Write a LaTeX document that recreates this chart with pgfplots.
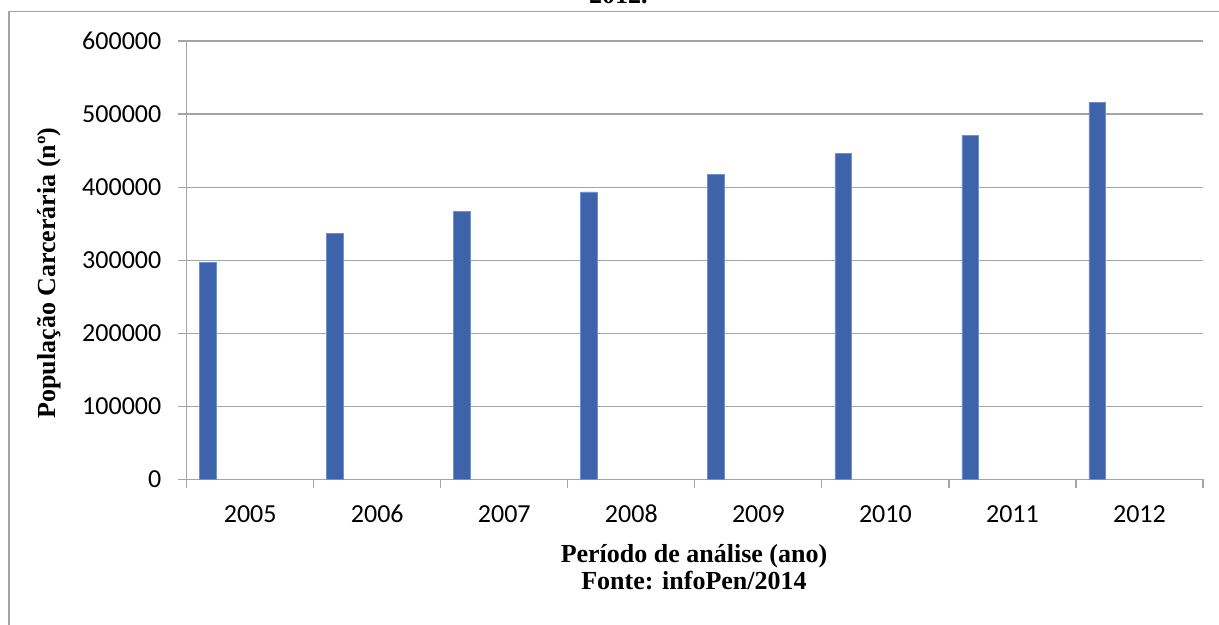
\documentclass[border=0pt]{standalone}
\usepackage{pgfplots}
\pgfplotsset{compat=1.18}
\usepackage{fontspec}
\setmainfont{Carlito}
\newfontfamily\tnr{Liberation Serif}
\definecolor{barblue}{RGB}{61,100,171}
\definecolor{baredge}{RGB}{110,145,205}
\definecolor{gridgray}{RGB}{165,165,165}
\begin{document}
\begin{tikzpicture}
\begin{axis}[
  at={(93.35pt,72.75pt)}, anchor=south west,
  scale only axis, width=508.15pt, height=219.25pt,
  xmin=-0.5, xmax=7.5, ymin=0, ymax=600000,
  axis lines=left, axis line style={draw=gridgray, line width=0.6pt, -},
  xtick={-0.5,0.5,1.5,2.5,3.5,4.5,5.5,6.5,7.5},
  x tick label as interval=true,
  xticklabels={2005,2006,2007,2008,2009,2010,2011,2012},
  ytick={0,100000,200000,300000,400000,500000,600000},
  scaled y ticks=false,
  /pgf/number format/assume math mode=true,
  yticklabel style={/pgf/number format/fixed, /pgf/number format/1000 sep={}, inner sep=0pt, anchor=east, xshift=-8pt},
  xticklabel style={inner sep=0pt, anchor=base, yshift=-17.25pt},
  tick label style={font=\fontsize{13}{15}\selectfont},
  tick align=outside, major tick length=4.5pt,
  tick style={draw=gridgray, line width=0.6pt},
  ymajorgrids, grid style={draw=gridgray, line width=0.6pt},
  clip=false,
]
\addplot[ybar, bar width=0.131, bar shift=-0.332, fill=barblue, draw=baredge, line width=0.4pt]
  coordinates {(0,296919) (1,336358) (2,366359) (3,393488) (4,417112) (5,445705) (6,471254) (7,515482)};
\end{axis}
\node[rotate=90, font=\tnr\bfseries\fontsize{13}{15}\selectfont] at (24.5pt,176pt) {População Carcerária (nº)};
\node[anchor=base, font=\tnr\bfseries\fontsize{13}{15}\selectfont] at (347pt,31pt) {Período de análise (ano)};
\node[anchor=base, font=\tnr\bfseries\fontsize{13}{15}\selectfont] at (347pt,17.5pt) {Fonte: infoPen/2014};
\node[anchor=base east, inner sep=0pt, font=\tnr\bfseries\fontsize{13}{15}\selectfont] at (324pt,310.5pt) {2012.};
\draw[gridgray, line width=0.6pt] (4.5pt,-5pt) -- (4.5pt,306.65pt) -- (620pt,306.65pt);
\pgfresetboundingbox
\path[use as bounding box] (0,0) rectangle (609.5pt,312.5pt);
\end{tikzpicture}
\end{document}
